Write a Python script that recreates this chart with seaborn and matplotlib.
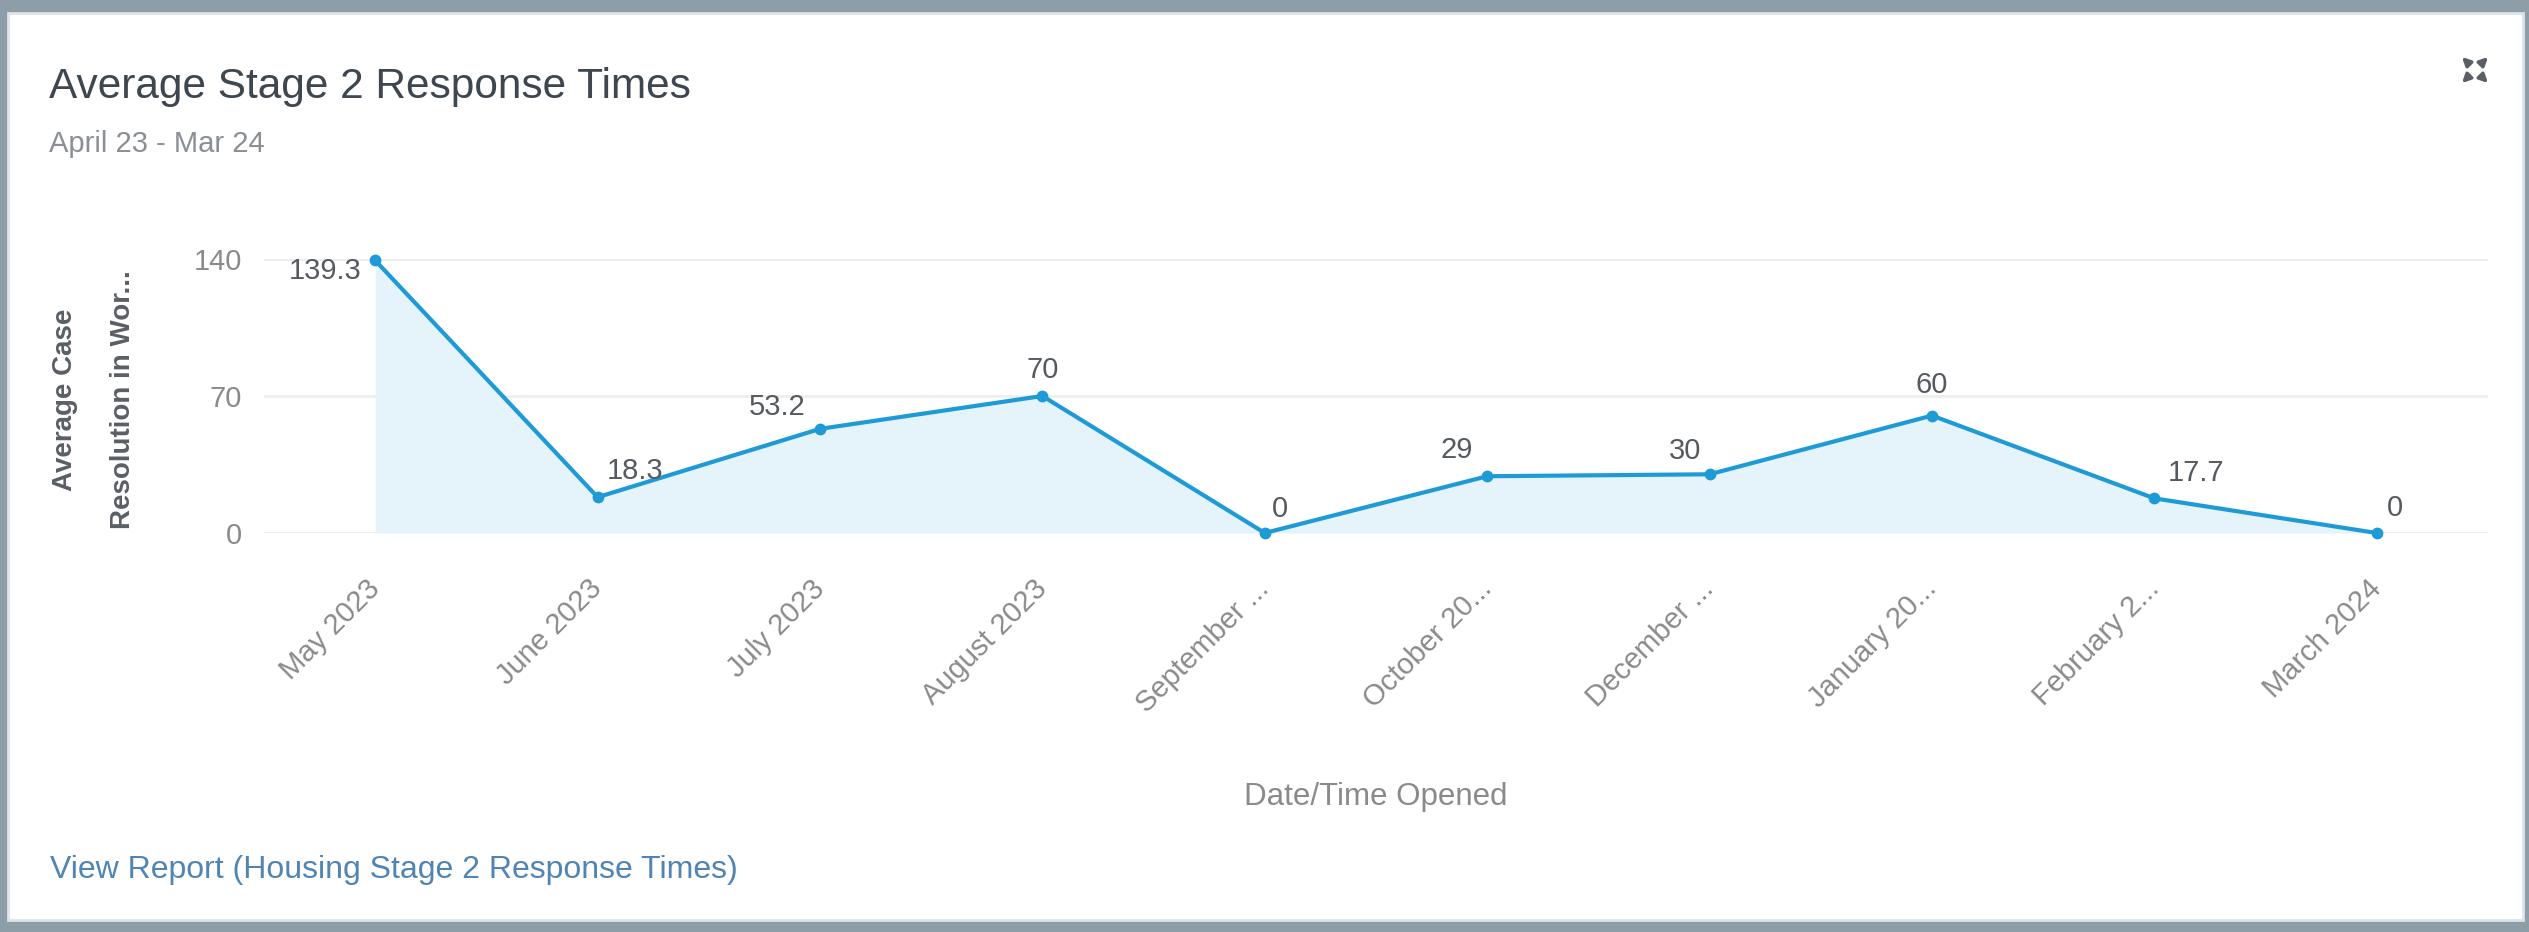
import matplotlib
matplotlib.use("Agg")
import matplotlib.pyplot as plt
from matplotlib.patches import Rectangle, FancyArrowPatch
import pandas as pd
import seaborn as sns

# Monthly averages for the reporting period
months = ["May 2023", "June 2023", "July 2023", "August 2023", "September ...",
          "October 20...", "December ...", "January 20...", "February 2...", "March 2024"]
avg_days = [139.3, 18.3, 53.2, 70, 0, 29, 30, 60, 17.7, 0]
value_labels = ["139.3", "18.3", "53.2", "70", "0", "29", "30", "60", "17.7", "0"]
y_ticks = [0, 70, 140]
y_tick_labels = ["0", "70", "140"]

# Where each value label sits relative to its point (points)
label_offsets = [(-36, -8), (27, 19), (-31, 16), (0, 19), (11, 17),
                 (-22, 19), (-18, 17), (0, 22), (30, 18), (13, 18)]

sns.set_style("white")
plt.rcParams["font.family"] = ["Liberation Sans", "DejaVu Sans"]

W, H = 2529, 932
fig = plt.figure(figsize=(W / 100, H / 100), dpi=100, facecolor="#8e9ea9")


def fx(px):
    return px / W


def fy(py):
    return 1 - py / H


# white card
card = Rectangle((fx(8), fy(920)), fx(2523) - fx(8), fy(13) - fy(920),
                 transform=fig.transFigure, facecolor="white",
                 edgecolor="#dde3e8", linewidth=2, zorder=0)
fig.add_artist(card)

ax = fig.add_axes([fx(264), fy(533), fx(2488) - fx(264), fy(259) - fy(533)])
ax.set_facecolor("white")

df = pd.DataFrame({"month": months, "x": range(len(months)), "value": avg_days})

ax.fill_between(df["x"], df["value"], 0, color="#e5f3fb", linewidth=0, zorder=1)
sns.lineplot(data=df, x="x", y="value", ax=ax, color="#1e9bd6", linewidth=3.0,
             marker="o", markersize=8.5, markeredgewidth=0, zorder=3, clip_on=False)

for xi, v, txt, off in zip(df["x"], avg_days, value_labels, label_offsets):
    ax.annotate(txt, (xi, v), xytext=off, textcoords="offset points",
                ha="center", va="center", fontsize=21, color="#555a60",
                annotation_clip=False, zorder=4)

ax.set_xlim(-0.5, len(months) - 0.5)
ax.set_ylim(0, 140)
ax.set_yticks(y_ticks)
ax.set_yticklabels(y_tick_labels)
ax.yaxis.grid(True, color="#eeeeee", linewidth=2)
ax.xaxis.grid(False)
for s in ax.spines.values():
    s.set_visible(False)
ax.axhline(0, color="#e6e6e6", linewidth=2, zorder=0.5)

ax.set_xticks(df["x"])
ax.set_xticklabels(months, rotation=45, ha="right", va="center",
                   rotation_mode="anchor", fontsize=21, color="#8a8a8a")
ax.tick_params(axis="x", length=0, pad=37)
ax.tick_params(axis="y", length=0, pad=16, labelsize=21, labelcolor="#8a8a8a")

ax.set_xlabel("")
ax.set_ylabel("")

# axis titles
fig.text(fx(1376), fy(797), "Date/Time Opened", ha="center", va="center",
         fontsize=22.5, color="#8a8a8a")
fig.text(fx(94), fy(400), "Average Case\nResolution in Wor...", ha="center",
         va="center", rotation=90, fontsize=20, color="#5a5f66",
         fontweight="bold", linespacing=2.6)

# heading
fig.text(fx(49), fy(98), "Average Stage 2 Response Times", ha="left",
         va="baseline", fontsize=30.5, color="#3e4650")
fig.text(fx(49), fy(152), "April 23 - Mar 24", ha="left", va="baseline",
         fontsize=21, color="#8a8f96")

# footer link
fig.text(fx(50), fy(878), "View Report (Housing Stage 2 Response Times)",
         ha="left", va="baseline", fontsize=23, color="#4f84b3")

# expand icon
cx, cy = 2475, 70
for dx, dy in [(-1, -1), (1, -1), (-1, 1), (1, 1)]:
    arr = FancyArrowPatch((fx(cx + dx * 4), fy(cy + dy * 4)),
                          (fx(cx + dx * 15), fy(cy + dy * 15)),
                          transform=fig.transFigure, arrowstyle="-|>",
                          mutation_scale=12, color="#5a5f66", linewidth=2.5)
    fig.add_artist(arr)

fig.savefig("out.png", dpi=100, facecolor=fig.get_facecolor())
